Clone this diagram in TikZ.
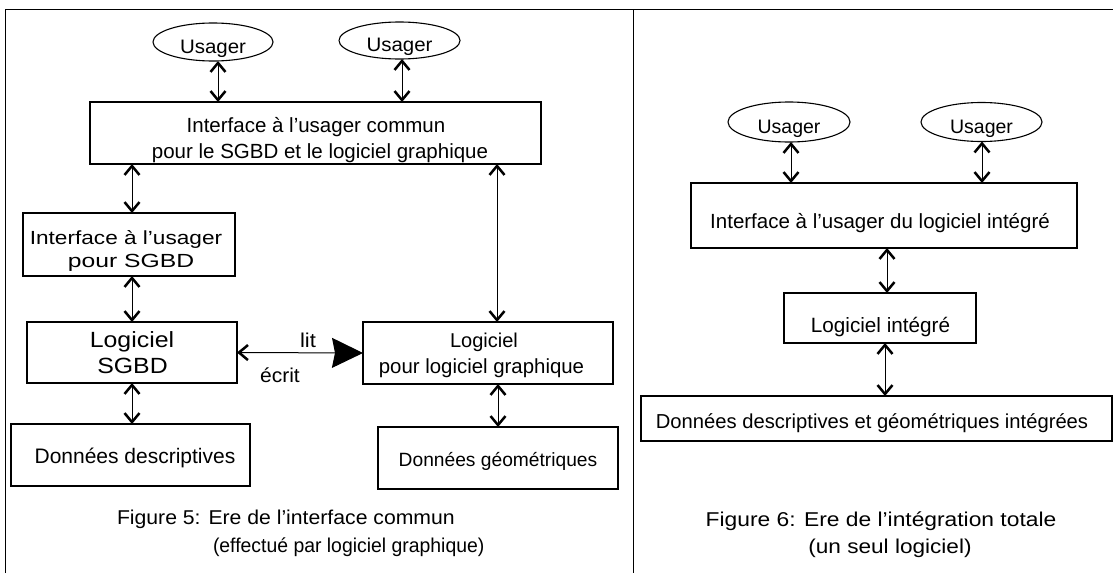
\documentclass[tikz,border=0pt]{standalone}
\usepackage{fontspec}
\setmainfont{Liberation Sans}
\usepackage{graphicx}
\usetikzlibrary{arrows.meta,shapes.geometric}
\newcommand{\fs}[1]{\fontsize{#1}{#1}\selectfont}
\newcommand{\sx}[2]{\scalebox{#1}[1]{#2}}
\begin{document}
\begin{tikzpicture}[x=1pt,y=-1pt,
  every node/.style={inner sep=0pt, outer sep=0pt},
  box/.style={draw, line width=1.2pt, rectangle},
  usr/.style={draw, ellipse, line width=1.1pt, text height=22pt, text depth=0pt, font=\fs{19.5}},
  lab/.style={anchor=base},
  dbl/.style={line width=1pt, {Straight Barb[length=9pt,width=15pt,line width=2.5pt]}-{Straight Barb[length=9pt,width=15pt,line width=2.5pt]}},
  litarrow/.style={line width=1pt, {Straight Barb[length=9pt,width=15pt,line width=2.5pt]}-{Stealth[length=31pt,width=30pt,inset=3pt]}},
  frame/.style={line width=1pt},
]
\useasboundingbox (0,0) rectangle (1113,573);
% frame
\draw[frame] (5,573) -- (5,9) -- (1113,9);
\draw[frame] (633,9) -- (633,573);

% ---------- Figure 5 ----------
\node[usr, minimum width=120pt, minimum height=38pt] (U1) at (213,42) {\sx{1.05}{Usager}};
\node[usr, minimum width=121pt, minimum height=37pt] (U2) at (399.5,40.5) {\sx{1.05}{Usager}};
\node[box, minimum width=451pt, minimum height=62pt] (TB) at (315.5,133) {};
\node[lab, font=\fs{20.5}] (tb1) at (316,132) {Interface à l'usager commun};
\node[lab, font=\fs{20.5}] (tb2) at (320,158) {pour le SGBD et le logiciel graphique};

\node[box, minimum width=212pt, minimum height=63pt] (IS) at (129,244.5) {};
\node[lab, font=\fs{19}] (is1) at (126,244) {\sx{1.19}{Interface à l'usager}};
\node[lab, font=\fs{19}] (is2) at (131,267) {\sx{1.3}{pour SGBD}};

\node[box, minimum width=210pt, minimum height=61pt] (LS) at (132,352.5) {};
\node[lab, font=\fs{22}] (ls1) at (132,347) {\sx{1.13}{Logiciel}};
\node[lab, font=\fs{22}] (ls2) at (132.5,373) {\sx{1.13}{SGBD}};

\node[box, minimum width=250pt, minimum height=62pt] (LG) at (488,353) {};
\node[lab, font=\fs{20}] (lg1) at (484,347) {Logiciel};
\node[lab, font=\fs{20.4}] (lg2) at (481.5,373) {pour logiciel graphique};

\node[box, minimum width=239pt, minimum height=62pt] (DD) at (130.5,455) {};
\node[lab, font=\fs{21}] (dd1) at (135,463) {Données descriptives};

\node[box, minimum width=240pt, minimum height=62pt] (DG) at (498,458) {};
\node[lab, font=\fs{19.2}] (dg1) at (498,466) {Données géométriques};

\node[lab, font=\fs{20}] (lit) at (308,347) {\sx{1.1}{lit}};
\node[lab, font=\fs{20}] (ecrit) at (280,382) {\sx{1.05}{écrit}};

\node[lab, font=\fs{20}, anchor=base west] (cap5a) at (117,524) {\sx{1.06}{Figure 5: Ere de l'interface commun}};
\node[lab, font=\fs{20}, anchor=base west] (cap5b) at (213,552) {\sx{0.97}{(effectué par logiciel graphique)}};

\draw[dbl] ([xshift=5pt]U1.south) -- ([xshift=5pt]U1.south |- TB.north);
\draw[dbl] ([xshift=2.5pt]U2.south) -- ([xshift=2.5pt]U2.south |- TB.north);
\draw[dbl] ([xshift=3pt]IS.north |- TB.south) -- ([xshift=3pt]IS.north);
\draw[dbl] (LS.north |- IS.south) -- (LS.north);
\draw[dbl] (LS.south) -- (LS.south |- DD.north);
\draw[dbl] ([xshift=9pt]LG.north |- TB.south) -- ([xshift=9pt]LG.north);
\draw[dbl] (DG.north |- LG.south) -- (DG.north);
\draw[litarrow] (LS.east) -- (LG.west);

% ---------- Figure 6 ----------
\node[usr, minimum width=122pt, minimum height=40pt] (U3) at (789,122) {Usager};
\node[usr, minimum width=121pt, minimum height=39pt] (U4) at (981.5,122) {Usager};
\node[box, minimum width=386pt, minimum height=65pt] (RI) at (884,215.5) {};
\node[lab, font=\fs{20.5}] (ri1) at (880,228) {Interface à l'usager du logiciel intégré};
\node[box, minimum width=192pt, minimum height=50pt] (LI) at (880,318) {};
\node[lab, font=\fs{20.7}] (li1) at (880.5,332) {Logiciel intégré};
\node[box, minimum width=471pt, minimum height=45pt] (DI) at (876.5,418.5) {};
\node[lab, font=\fs{20.2}] (di1) at (872,428) {Données descriptives et géométriques intégrées};

\node[lab, font=\fs{20}] (cap6a) at (881,526) {\sx{1.14}{Figure 6: Ere de l'intégration totale}};
\node[lab, font=\fs{20}] (cap6b) at (890,553) {\sx{1.13}{(un seul logiciel)}};

\draw[dbl] ([xshift=2pt]U3.south) -- ([xshift=2pt]U3.south |- RI.north);
\draw[dbl] ([xshift=0.5pt]U4.south) -- ([xshift=0.5pt]U4.south |- RI.north);
\draw[dbl] ([xshift=7pt]LI.north |- RI.south) -- ([xshift=7pt]LI.north);
\draw[dbl] ([xshift=5pt]LI.south) -- ([xshift=5pt]LI.south |- DI.north);
\end{tikzpicture}
\end{document}
